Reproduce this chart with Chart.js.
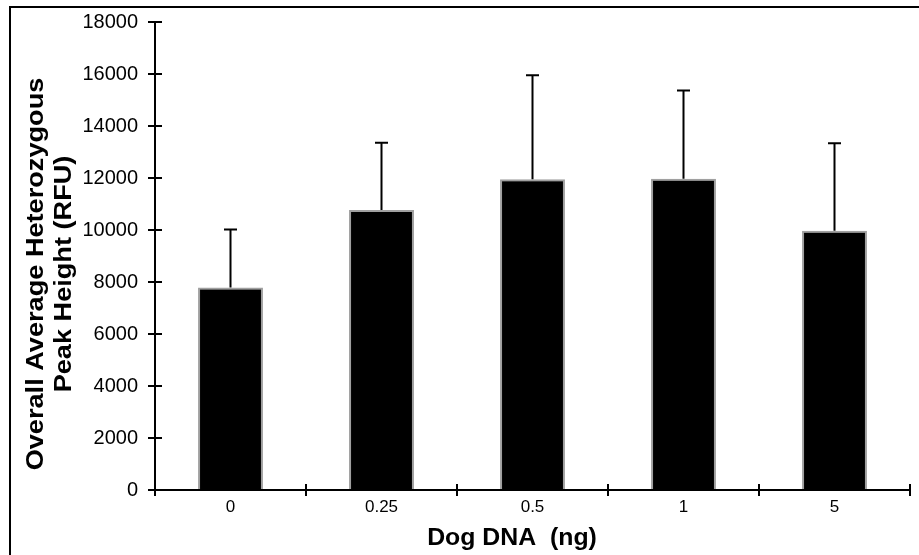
<!DOCTYPE html>
<html>
<head>
<meta charset="utf-8">
<script src="https://cdn.jsdelivr.net/npm/chart.js@4/dist/chart.umd.min.js"></script>
<style>
  html, body { margin: 0; padding: 0; background: #fff; }
  #wrap { width: 919px; height: 555px; position: relative; }
</style>
</head>
<body>
<div id="wrap"><canvas id="barChart" width="919" height="555"></canvas></div>
<script>
// data
var doses = ['0', '0.25', '0.5', '1', '5'];
var peakHeights = [7790, 10770, 11950, 11970, 9970];
var peakErrors = [2230, 2590, 4000, 3400, 3370];
var yTicks = [0, 2000, 4000, 6000, 8000, 10000, 12000, 14000, 16000, 18000];

var xTitle = 'Dog DNA  (ng)';
var yTitle = ['Overall Average Heterozygous', 'Peak Height (RFU)'];

var FONT = '"Liberation Sans", Arial, sans-serif';

// frame lines (only top and left show in the original)
var framePlugin = {
  id: 'frame',
  beforeDraw: function (chart) {
    var ctx = chart.ctx;
    ctx.save();
    ctx.fillStyle = '#000';
    ctx.fillRect(9, 6, 910, 2);
    ctx.fillRect(9, 6, 2, 549);
    ctx.restore();
  }
};

// upper error bars
var errorPlugin = {
  id: 'errorBars',
  afterDatasetsDraw: function (chart) {
    var ctx = chart.ctx;
    var y = chart.scales.y;
    var meta = chart.getDatasetMeta(0);
    ctx.save();
    ctx.strokeStyle = '#000';
    ctx.lineWidth = 2;
    meta.data.forEach(function (bar, i) {
      var top = y.getPixelForValue(peakHeights[i] + peakErrors[i]);
      ctx.beginPath();
      ctx.moveTo(bar.x, bar.y);
      ctx.lineTo(bar.x, top);
      ctx.moveTo(bar.x - 6.5, top);
      ctx.lineTo(bar.x + 6.5, top);
      ctx.stroke();
    });
    ctx.restore();
  }
};

// tick marks cross the axes, and the axis titles are stretched like the original
var axisPlugin = {
  id: 'axisExtras',
  afterDraw: function (chart) {
    var ctx = chart.ctx;
    var xs = chart.scales.x, ys = chart.scales.y;
    var area = chart.chartArea;
    ctx.save();
    ctx.strokeStyle = '#000';
    ctx.lineWidth = 2;
    ctx.beginPath();
    yTicks.forEach(function (v) {
      var py = Math.round(ys.getPixelForValue(v));
      ctx.moveTo(area.left, py);
      ctx.lineTo(area.left + 7, py);
    });
    for (var i = 0; i <= doses.length; i++) {
      var px = Math.round(xs.getPixelForValue(i - 0.5));
      ctx.moveTo(px, area.bottom);
      ctx.lineTo(px, area.bottom - 6);
    }
    ctx.stroke();

    ctx.fillStyle = '#000';
    ctx.textAlign = 'center';
    ctx.textBaseline = 'alphabetic';

    ctx.save();
    ctx.font = 'bold 23px ' + FONT;
    ctx.translate(512, 545);
    ctx.scale(1.08, 1);
    ctx.fillText(xTitle, 0, 0);
    ctx.restore();

    ctx.font = 'bold 23px ' + FONT;
    [43, 71].forEach(function (bx, k) {
      ctx.save();
      ctx.translate(bx, 274);
      ctx.rotate(-Math.PI / 2);
      ctx.scale(1.18, 1);
      ctx.fillText(yTitle[k], 0, 0);
      ctx.restore();
    });
    ctx.restore();
  }
};

var ctx = document.getElementById('barChart').getContext('2d');
new Chart(ctx, {
  type: 'bar',
  data: {
    labels: doses,
    datasets: [{
      data: peakHeights,
      backgroundColor: '#000',
      borderColor: '#a0a0a0',
      borderWidth: 2,
      borderSkipped: 'start',
      categoryPercentage: 1,
      barPercentage: 0.43
    }]
  },
  options: {
    responsive: false,
    animation: false,
    layout: { padding: { top: 20, right: 9, left: 0, bottom: 0 } },
    plugins: {
      legend: { display: false },
      tooltip: { enabled: false }
    },
    scales: {
      x: {
        offset: true,
        grid: { display: true, offset: true, drawOnChartArea: false, color: '#000', lineWidth: 2, tickLength: 6 },
        border: { display: true, color: '#000', width: 2 },
        ticks: { color: '#000', font: { family: FONT, size: 17 }, padding: 1, maxRotation: 0 },
        afterFit: function (scale) { scale.height = 65; }
      },
      y: {
        min: 0,
        max: 18000,
        afterBuildTicks: function (scale) {
          scale.ticks = yTicks.map(function (v) { return { value: v }; });
        },
        grid: { display: true, drawOnChartArea: false, color: '#000', lineWidth: 2, tickLength: 7 },
        border: { display: true, color: '#000', width: 2 },
        ticks: {
          color: '#000',
          font: { family: FONT, size: 20 },
          padding: 10,
          callback: function (v) { return String(v); }
        },
        afterFit: function (scale) { scale.width = 155; }
      }
    }
  },
  plugins: [framePlugin, errorPlugin, axisPlugin]
});
</script>
</body>
</html>
